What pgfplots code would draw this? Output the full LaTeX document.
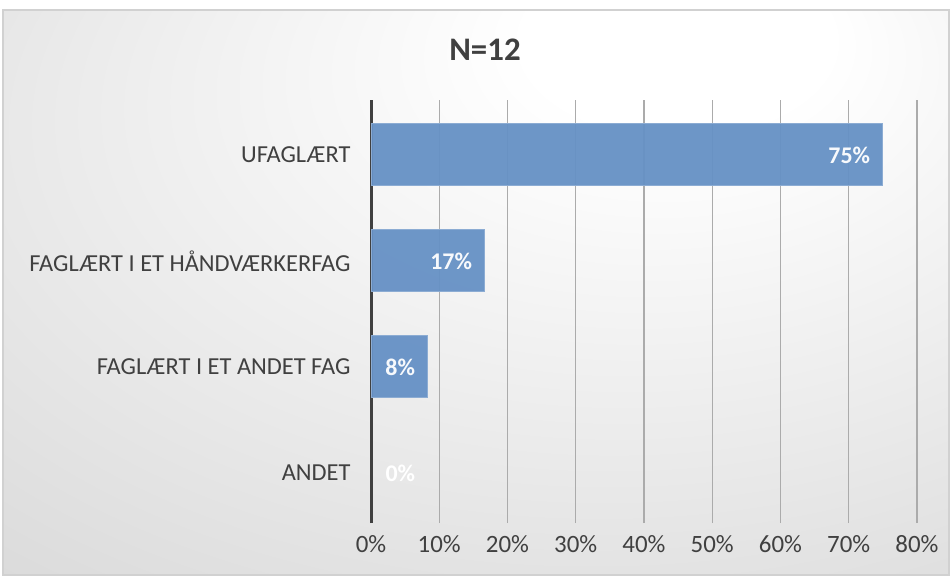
\documentclass[border=0pt]{standalone}
\usepackage{fontspec}
\setmainfont{Carlito}
\usepackage{pgfplots}
\pgfplotsset{compat=1.18}
\usetikzlibrary{backgrounds}
\definecolor{barblue}{HTML}{6691C5}
\definecolor{txt}{HTML}{404040}
\definecolor{gridc}{HTML}{ABABAB}
\pgfdeclareradialshading{bgshade}{\pgfpoint{12bp}{25bp}}{color(0bp)=(white); color(8bp)=(white); color(75bp)=(black!25)}
\begin{document}
\begin{tikzpicture}
\fill[white] (0bp,0bp) rectangle (952bp,577bp);
\shade[shading=bgshade, draw=black!18, line width=1.5bp] (3bp,2bp) rectangle (949bp,567bp);
\node[text=txt, font=\fontsize{33}{38}\selectfont\bfseries] at (485bp,527bp) {N=12};
\begin{axis}[
  at={(371bp,54bp)}, anchor=south west,
  width=546bp, height=423bp, scale only axis,
  xbar, bar width=62bp, bar shift=0pt,
  xmin=0, xmax=80, ymin=-0.472, ymax=3.518,
  ytick={0,1,2,3},
  yticklabels={ANDET, FAGLÆRT I ET ANDET FAG, FAGLÆRT I ET HÅNDVÆRKERFAG, UFAGLÆRT},
  xtick={0,10,...,80},
  xticklabel={\pgfmathprintnumber{\tick}\%},
  axis x line*=bottom, axis y line*=left,
  x axis line style={draw=none},
  y axis line style={draw=txt, line width=3bp, -},
  major tick length=0pt,
  xmajorgrids, grid style={gridc, line width=1.2bp},
  tick label style={text=txt},
  /pgf/number format/assume math mode=true,
  xticklabel style={yshift=-9bp, font=\fontsize{25}{29}\selectfont},
  yticklabel style={xshift=-17bp, font=\fontsize{24.5}{28}\selectfont},
  point meta=x,
  nodes near coords={\pgfmathprintnumber[fixed,precision=0]{\pgfplotspointmeta}\%},
  every node near coord/.append style={text=white, font=\fontsize{24}{28}\selectfont\bfseries},
]
\addplot[fill=barblue, fill opacity=0.95, draw=barblue!75!white, line width=1bp,
  nodes near coords style={anchor=east, xshift=-9bp}]
  coordinates {(75,3) (16.67,2) (8.33,1)};
\addplot[draw=none, fill=none,
  nodes near coords style={anchor=west, xshift=11bp}]
  coordinates {(0,0)};
\end{axis}
\end{tikzpicture}
\end{document}
